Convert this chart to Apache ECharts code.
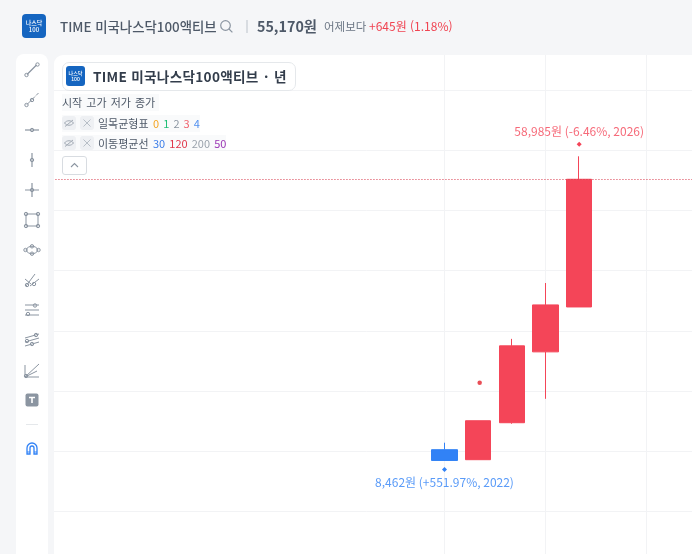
<!DOCTYPE html>
<html lang="ko">
<head>
<meta charset="utf-8">
<title>TIME 미국나스닥100액티브</title>
<script src="https://cdn.jsdelivr.net/npm/echarts@6/dist/echarts.min.js"></script>
<style>
  html, body { margin: 0; width: 692px; height: 554px; overflow: hidden; background: #f5f6f8;
    font-family: "Noto Sans CJK KR", "Noto Sans", sans-serif; }
  .abs { position: absolute; white-space: nowrap; }
  #panel { position: absolute; left: 54px; top: 55px; width: 638px; height: 499px; background: #fff; border-top-left-radius: 9px; }
  #chart { position: absolute; left: 0; top: 0; width: 692px; height: 554px; }
  #topbar { position: absolute; left: 0; top: 0; width: 692px; height: 55px; background: #f5f6f8; }
  #leftbar { position: absolute; left: 0; top: 0; width: 54px; height: 554px; background: #f5f6f8; }
  #tools { position: absolute; left: 16px; top: 54px; width: 32px; height: 500px; background: #fff; border-radius: 8px 8px 0 0; }
  #tools svg { position: absolute; left: 6px; width: 20px; height: 20px; }
  .logo { background: #1565c0; color: #fff; text-align: center; font-weight: 500; display: flex; flex-direction: column; justify-content: center; line-height: 1.2; }
  #ui { position: absolute; left: 0; top: 0; width: 692px; height: 554px; }
  .tag { background: #eef0f3; border-radius: 3px; width: 14px; height: 14px; }
  .fade { background: rgba(249,250,251,.92); }
</style>
</head>
<body>
<div id="panel"></div>
<div id="chart"></div>
<div id="leftbar"></div>
<div id="topbar"></div>
<div id="tools"></div>
<div id="ui">
  <div class="abs logo" style="left:22px;top:14px;width:24px;height:24px;border-radius:4px;font-size:6px"><span>나스닥</span><span>100</span></div>
  <div class="abs" style="left:60px;top:16px;font-size:13.4px;line-height:20px;color:#4e5968;font-weight:500">TIME 미국나스닥100액티브</div>
  <svg class="abs" style="left:219px;top:19px" width="15" height="15" viewBox="0 0 15 15" fill="none" stroke="#8b95a1" stroke-width="1.2"><circle cx="6.5" cy="6.5" r="4.8"/><path d="M10 10l3.4 3.4"/></svg>
  <div class="abs" style="left:246px;top:20px;width:1.5px;height:13px;background:#d8dce1"></div>
  <div class="abs" style="left:257px;top:15px;font-size:14.3px;line-height:22px;color:#4e5968;font-weight:700">55,170원</div>
  <div class="abs" style="left:324px;top:17px;font-size:11.5px;line-height:18px;color:#6b7684">어제보다</div>
  <div class="abs" style="left:369px;top:17px;font-size:12px;line-height:18px;color:#f04452">+645원 (1.18%)</div>

  <div class="abs" style="left:62px;top:62px;width:232px;height:27px;background:#fff;border:1px solid #e5e8eb;border-radius:7px"></div>
  <div class="abs logo" style="left:66px;top:66px;width:19px;height:20px;border-radius:3px;font-size:5px"><span>나스닥</span><span>100</span></div>
  <div class="abs" style="left:93px;top:66px;font-size:13.6px;line-height:20px;color:#333d4b;font-weight:700;letter-spacing:.3px">TIME 미국나스닥100액티브</div>
  <div class="abs" style="left:264px;top:66px;font-size:13.6px;line-height:20px;color:#333d4b;font-weight:700">·</div>
  <div class="abs" style="left:274px;top:66px;font-size:13.6px;line-height:20px;color:#333d4b;font-weight:700">년</div>

  <div class="abs fade" style="left:62px;top:94px;width:97px;height:17px"></div>
  <div class="abs" style="left:62px;top:94px;font-size:11px;line-height:17px;color:#4e5968;word-spacing:1px">시작 고가 저가 종가</div>

  <div class="abs fade" style="left:62px;top:115px;width:138px;height:17px"></div>
  <div class="abs tag" style="left:62px;top:116px"></div>
  <svg class="abs" style="left:62px;top:116px" width="14" height="14" viewBox="0 0 14 14" fill="none" stroke="#a3abb5" stroke-width="1"><path d="M2.5 7c2-3 7-3 9 0c-2 3-7 3-9 0z"/><path d="M3 10.5l8-6.5"/></svg>
  <div class="abs tag" style="left:80px;top:116px"></div>
  <svg class="abs" style="left:80px;top:116px" width="14" height="14" viewBox="0 0 14 14" fill="none" stroke="#b8bfc7" stroke-width="1"><path d="M3.5 3.5l7 7M10.5 3.5l-7 7"/></svg>
  <div class="abs" style="left:98px;top:115px;font-size:11px;line-height:17px;color:#4e5968">일목균형표</div>
  <div class="abs" style="left:153px;top:115px;font-size:11px;line-height:17px;word-spacing:1px"><span style="color:#f5a623">0</span> <span style="color:#1fbf75">1</span> <span style="color:#8b95a1">2</span> <span style="color:#f0616d">3</span> <span style="color:#4f8ff0">4</span></div>

  <div class="abs fade" style="left:62px;top:135px;width:164px;height:15px"></div>
  <div class="abs tag" style="left:62px;top:136px"></div>
  <svg class="abs" style="left:62px;top:136px" width="14" height="14" viewBox="0 0 14 14" fill="none" stroke="#a3abb5" stroke-width="1"><path d="M2.5 7c2-3 7-3 9 0c-2 3-7 3-9 0z"/><path d="M3 10.5l8-6.5"/></svg>
  <div class="abs tag" style="left:80px;top:136px"></div>
  <svg class="abs" style="left:80px;top:136px" width="14" height="14" viewBox="0 0 14 14" fill="none" stroke="#b8bfc7" stroke-width="1"><path d="M3.5 3.5l7 7M10.5 3.5l-7 7"/></svg>
  <div class="abs" style="left:98px;top:135px;font-size:11px;line-height:17px;color:#4e5968">이동평균선</div>
  <div class="abs" style="left:153px;top:135px;font-size:11px;line-height:17px;word-spacing:1px"><span style="color:#3b7de8">30</span> <span style="color:#e0364a">120</span> <span style="color:#9aa2ac">200</span> <span style="color:#9c36b5">50</span></div>

  <div class="abs" style="left:62px;top:156px;width:23px;height:17px;background:#fff;border:1px solid #d8dce1;border-radius:3px"></div>
  <svg class="abs" style="left:62px;top:156px" width="25" height="19" viewBox="0 0 25 19" fill="none" stroke="#8b95a1" stroke-width="1.1"><path d="M9 11l3.5-3.5L16 11"/></svg>
</div>
<script>
  // Yearly candles for the fund; the axis keeps empty years on both sides of the listed range.
  const years = ['2010','2011','2012','2013','2014','2015','2016','2017','2018','2019','2020','2021',
                 '2022','2023','2024','2025','2026','2027','2028','2029','2030'];
  const openPrices  = [10250,  8590, 14730, 26500, 33960];
  const closePrices = [ 8462, 15060, 27500, 34300, 55170];
  const lowPrices   = [ 8462,  8590, 14560, 18700, 33960];
  const highPrices  = [11410, 15060, 28660, 37940, 58985];
  const listedYears = ['2022','2023','2024','2025','2026'];
  const currentPrice = 55170;
  const signalYear = '2023';
  const signalPrice = 21360;
  const lowNote  = { year: '2022', price: 8462,  change: '+551.97%' };
  const highNote = { year: '2026', price: 58985, change: '-6.46%' };

  const RISE = '#f44558';
  const FALL = '#3182f6';
  const GRID = '#f2f3f5';

  const noteText = n => `${n.price.toLocaleString('en-US')}원 (${n.change}, ${n.year})`;
  const candleData = years.map(y => {
    const i = listedYears.indexOf(y);
    return i < 0 ? '-' : [openPrices[i], closePrices[i], lowPrices[i], highPrices[i]];
  });
  const noteMark = (n, color, side) => ({
    coord: [n.year, n.price],
    symbol: 'diamond',
    symbolSize: 5,
    symbolOffset: [0, side === 'top' ? -12 : 9],
    itemStyle: { color },
    label: {
      show: true, position: side, distance: 4, formatter: noteText(n),
      color, opacity: .8, fontSize: 12, fontFamily: '"Noto Sans CJK KR", sans-serif'
    }
  });

  const chart = echarts.init(document.getElementById('chart'), null, { renderer: 'canvas' });
  chart.setOption({
    animation: false,
    backgroundColor: 'transparent',
    // The plot runs past the window on purpose; only the visible part is framed by the panels.
    grid: { left: 40.46, top: 29.8, width: 673.4, height: 541.8, outerBoundsMode: 'none' },
    xAxis: {
      type: 'category', data: years, boundaryGap: false,
      axisLine: { show: false }, axisTick: { show: false }, axisLabel: { show: false },
      splitLine: {
        show: true,
        interval: i => i >= 12 && (i - 12) % 3 === 0,
        lineStyle: { color: GRID, width: 1 }
      }
    },
    yAxis: {
      type: 'value', min: -10000, max: 80000, interval: 10000,
      axisLine: { show: false }, axisTick: { show: false }, axisLabel: { show: false },
      splitLine: { show: true, lineStyle: { color: GRID, width: 1 } }
    },
    series: [
      {
        type: 'candlestick',
        data: candleData,
        barWidth: 26,
        clip: false,
        itemStyle: { color: RISE, color0: FALL, borderColor: RISE, borderColor0: FALL, borderWidth: 1, borderJoin: 'miter' },
        markLine: {
          silent: true, symbol: 'none', label: { show: false },
          lineStyle: { color: '#d8374a', type: [1, 2], width: 1 },
          data: [{ yAxis: currentPrice }]
        },
        markPoint: {
          silent: true,
          data: [noteMark(highNote, RISE, 'top'), noteMark(lowNote, FALL, 'bottom')]
        }
      },
      {
        type: 'scatter',
        data: [[signalYear, signalPrice]],
        symbolSize: 4.5,
        symbolOffset: [1.5, 0],
        itemStyle: { color: '#e3202c' }
      }
    ]
  });

  // Drawing tool strip on the left edge.
  const S = 'stroke="#8b95a1" fill="none" stroke-width="1"';
  const node = (x, y) => `<circle cx="${x}" cy="${y}" r="1.7" ${S}/>`;
  const toolIcons = [
    [70,  `<path d="M5 14.5L14.5 5" stroke="#8b95a1" stroke-width="1.2"/>` + node(4.5, 15) + node(15.5, 4.5)],
    [100, `<path d="M5 14.5L13 6.5M14 5.5l2.5-2.5" stroke="#8b95a1"/>` + node(4.5, 15) + node(10, 10)],
    [130, `<path d="M3 10H17" stroke="#8b95a1" stroke-width="1.2"/>` + node(10, 10)],
    [160, `<path d="M10 3V17" stroke="#8b95a1" stroke-width="1.2"/>` + node(10, 10)],
    [190, `<path d="M3 10H17M10 3V17" stroke="#8b95a1" stroke-width="1.2"/>` + node(10, 10)],
    [220, `<rect x="4" y="4" width="12" height="12" ${S}/>` + node(4, 4) + node(16, 4) + node(4, 16) + node(16, 16)],
    [250, `<path d="M4 10C6 5 14 5 16 10C14 15 6 15 4 10Z" ${S}/>` + node(3.5, 10) + node(16.5, 10) + node(10, 6.3) + node(10, 13.7)],
    [280, `<path d="M4 16L13 4M8 16L17 9M3 9l6 5" stroke="#8b95a1"/>` + node(5, 15) + node(12, 14)],
    [310, `<path d="M3 5H17M3 10H17M3 15H17" stroke="#8b95a1"/>` + node(13, 5.5) + node(6, 14)],
    [340, `<path d="M3 8L17 4M3 12L17 8M3 16L17 12" stroke="#8b95a1"/>` + node(14, 5) + node(5, 11) + node(10, 14)],
    [370, `<path d="M3 17L17 4M3 17L15 11M3 17H17M3 17V5" stroke="#8b95a1"/>` + node(4, 16)],
    [400, `<rect x="3.5" y="3.5" width="13" height="13" rx="2" fill="#8b95a1"/><path d="M7 7.5H13M10 7.5V13" stroke="#fff" stroke-width="1.6"/>`],
    [449, `<path d="M5 15V9a5 5 0 0 1 10 0v6h-3V9a2 2 0 0 0-4 0v6Z" fill="none" stroke="#3182f6" stroke-width="1.3"/><path d="M5 13H8M12 13H15" stroke="#3182f6"/>`]
  ];
  const tools = document.getElementById('tools');
  tools.innerHTML = toolIcons.map(([cy, body]) =>
    `<svg viewBox="0 0 20 20" style="top:${cy - 54 - 10}px">${body}</svg>`).join('') +
    `<div style="position:absolute;left:10px;top:370px;width:12px;height:1px;background:#e5e8eb"></div>`;
</script>
</body>
</html>
